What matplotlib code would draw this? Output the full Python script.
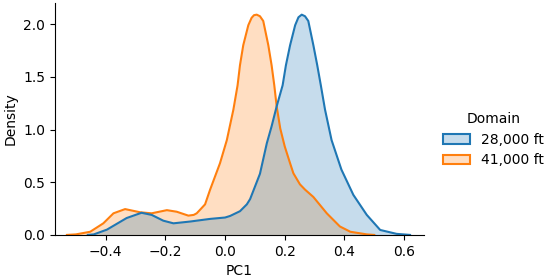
import matplotlib
matplotlib.use("Agg")
import matplotlib.pyplot as plt
from matplotlib.colors import to_rgba
from matplotlib.patches import Patch

# values
x_28k = [-0.46, -0.44, -0.396, -0.33, -0.28, -0.246, -0.207, -0.173, -0.117, -0.05,
         0.0, 0.017, 0.05, 0.073, 0.084, 0.106, 0.117, 0.14, 0.156, 0.173,
         0.193, 0.204, 0.218, 0.235, 0.246, 0.257, 0.268, 0.279, 0.296, 0.309,
         0.321, 0.335, 0.357, 0.39, 0.43, 0.475, 0.52, 0.575, 0.62]
y_28k = [0.0, 0.005, 0.05, 0.16, 0.21, 0.19, 0.135, 0.11, 0.127, 0.152,
         0.165, 0.18, 0.225, 0.29, 0.34, 0.50, 0.58, 0.87, 1.03, 1.22,
         1.42, 1.61, 1.80, 1.99, 2.065, 2.09, 2.075, 2.03, 1.80, 1.61,
         1.42, 1.19, 0.90, 0.62, 0.38, 0.19, 0.047, 0.01, 0.0]

x_41k = [-0.53, -0.50, -0.452, -0.408, -0.374, -0.335, -0.285, -0.246, -0.195, -0.162,
         -0.123, -0.105, -0.095, -0.08, -0.067, -0.05, -0.017, 0.006, 0.028, 0.042,
         0.05, 0.061, 0.078, 0.089, 0.097, 0.106, 0.117, 0.128, 0.145, 0.156,
         0.165, 0.173, 0.185, 0.20, 0.218, 0.229, 0.251, 0.268, 0.296, 0.341,
         0.385, 0.42, 0.475, 0.50]
y_41k = [0.0, 0.005, 0.03, 0.11, 0.205, 0.245, 0.215, 0.205, 0.235, 0.22,
         0.183, 0.19, 0.205, 0.25, 0.29, 0.43, 0.68, 0.90, 1.19, 1.42,
         1.61, 1.80, 1.99, 2.06, 2.085, 2.09, 2.075, 2.03, 1.80, 1.61,
         1.42, 1.22, 1.01, 0.84, 0.68, 0.585, 0.48, 0.43, 0.36, 0.205,
         0.08, 0.03, 0.005, 0.0]

labels = ["28,000 ft", "41,000 ft"]
colors = ["#1f77b4", "#ff7f0e"]

plt.rcParams["font.size"] = 10

fig = plt.figure(figsize=(5.5, 2.79), dpi=100)
ax = fig.add_axes([0.1, 0.158, 0.671, 0.831])

# later hue level first, so the blue layer sits on top (grey overlap)
for xs, ys, c in [(x_41k, y_41k, colors[1]), (x_28k, y_28k, colors[0])]:
    ax.fill_between(xs, ys, 0, color=c, alpha=0.25, linewidth=0)
    ax.plot(xs, ys, color=c, linewidth=1.5, solid_joinstyle="round")

ax.set_xlim(-0.57, 0.667)
ax.set_ylim(0, 2.2)
ax.set_xticks([-0.4, -0.2, 0.0, 0.2, 0.4, 0.6])
ax.set_yticks([0.0, 0.5, 1.0, 1.5, 2.0])
ax.set_xlabel("PC1")
ax.set_ylabel("Density")
ax.spines["top"].set_visible(False)
ax.spines["right"].set_visible(False)

handles = [Patch(facecolor=to_rgba(c, 0.25), edgecolor=c, linewidth=1.5) for c in colors]
fig.legend(handles, labels, title="Domain", loc="center left",
           bbox_to_anchor=(0.782, 0.5), frameon=False)

fig.savefig("out.png", dpi=100)
